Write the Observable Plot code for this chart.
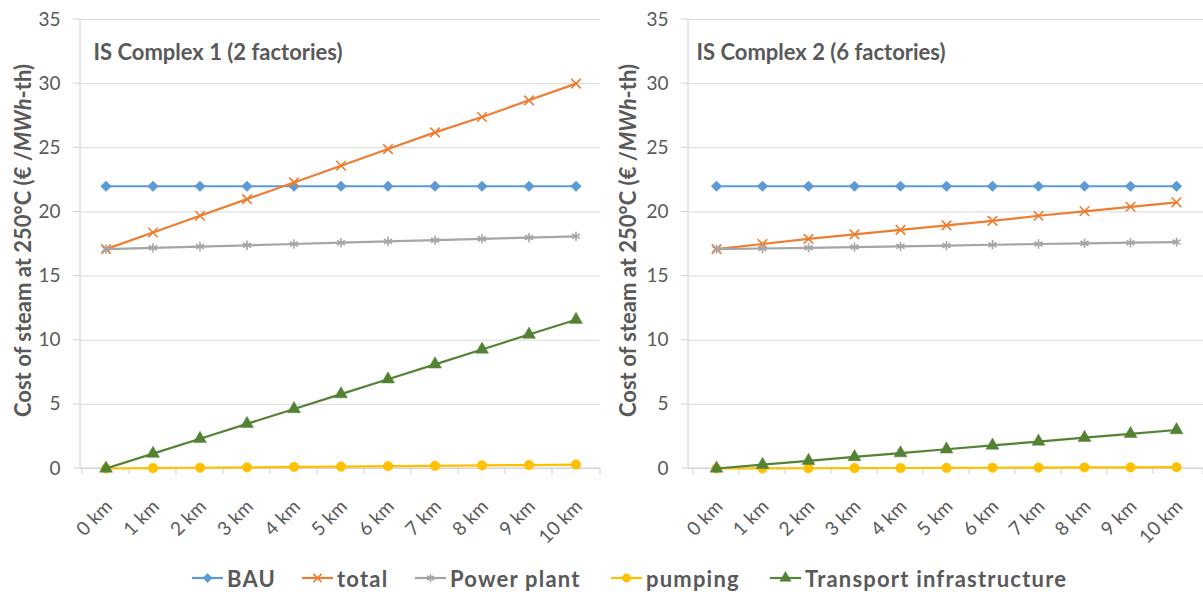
<!DOCTYPE html>
<html><head><meta charset="utf-8">
<script src="https://cdn.jsdelivr.net/npm/d3@7"></script>
<script src="https://cdn.jsdelivr.net/npm/@observablehq/plot@0.6"></script>
<style>
html,body{margin:0;padding:0;background:#fff;}
body{width:1203px;height:592px;position:relative;overflow:hidden;font-family:Lato,"Open Sans",sans-serif;}
#charts{position:absolute;left:0;top:0;display:flex;}
#legend{position:absolute;left:0;top:562px;width:1203px;height:32px;}
.item{position:absolute;top:0;display:flex;align-items:center;height:32px;color:#595959;font-size:22px;font-weight:bold;letter-spacing:1.2px;white-space:nowrap;}
.item svg{margin-right:3px;}
</style></head><body>
<div id="charts"></div>
<div id="legend"></div>
<script>
const categories = ["0 km","1 km","2 km","3 km","4 km","5 km","6 km","7 km","8 km","9 km","10 km"];
const yTicks = [0,5,10,15,20,25,30,35];
const seriesNames = ["BAU","total","Power plant","pumping","Transport infrastructure"];
const seriesColors = ["#5B9BD5","#ED7D31","#A5A5A5","#FFC000","#548235"];
const seriesSymbols = ["diamond2","times","asterisk","circle","triangle"];
const panelTitles = ["IS Complex 1 (2 factories)","IS Complex 2 (6 factories)"];

// IS Complex 1
const c1BAU       = [22,22,22,22,22,22,22,22,22,22,22];
const c1Total     = [17.1,18.4,19.7,21.0,22.3,23.6,24.9,26.2,27.4,28.7,30.0];
const c1Power     = [17.1,17.2,17.3,17.4,17.5,17.6,17.7,17.8,17.9,18.0,18.1];
const c1Pumping   = [0,0.03,0.06,0.09,0.12,0.15,0.18,0.21,0.24,0.27,0.3];
const c1Transport = [0,1.16,2.32,3.48,4.64,5.8,6.96,8.12,9.28,10.44,11.6];

// IS Complex 2
const c2BAU       = [22,22,22,22,22,22,22,22,22,22,22];
const c2Total     = [17.1,17.5,17.9,18.25,18.6,18.95,19.3,19.7,20.05,20.4,20.75];
const c2Power     = [17.1,17.15,17.2,17.26,17.32,17.38,17.44,17.5,17.55,17.6,17.65];
const c2Pumping   = [0,0.01,0.02,0.03,0.04,0.05,0.06,0.07,0.08,0.09,0.1];
const c2Transport = [0,0.3,0.6,0.9,1.2,1.5,1.8,2.1,2.4,2.7,3.0];

const panels = [
  {title: panelTitles[0], series: [c1BAU,c1Total,c1Power,c1Pumping,c1Transport], width: 601, ml: 80, mr: 1, titleDx: 13, labelX: 22},
  {title: panelTitles[1], series: [c2BAU,c2Total,c2Power,c2Pumping,c2Transport], width: 602, ml: 87, mr: 0, titleDx: 8, labelX: 26}
];

const H = 545, MT = 19, MB = 77;
const isFilled = s => s === "diamond2" || s === "circle" || s === "triangle";

function makePanel(p) {
  const rows = [];
  p.series.forEach((vals, i) => vals.forEach((v, j) => rows.push({series: seriesNames[i], cat: categories[j], value: v})));
  const marks = [
    Plot.gridY(yTicks, {stroke: "#d9d9d9", strokeOpacity: 1, strokeWidth: 1}),
    Plot.text(yTicks, {y: d => d, text: d => String(d), frameAnchor: "left", dx: -20, textAnchor: "end", fontSize: 19, fill: "#595959"}),
    Plot.axisX({tickSize: 0, tickRotate: -45, tickPadding: 19, dy: 16, dx: 3, label: null, fontSize: 19}),
    Plot.text([p.title], {frameAnchor: "top-left", dx: p.titleDx, dy: 25, fontWeight: "bold", fontSize: 22, fill: "#595959", textAnchor: "start", letterSpacing: 0.8})
  ];
  seriesNames.forEach((name, i) => {
    const d = rows.filter(r => r.series === name);
    marks.push(Plot.line(d, {x: "cat", y: "value", stroke: seriesColors[i], strokeWidth: 2.2}));
    const filled = isFilled(seriesSymbols[i]);
    marks.push(Plot.dot(d, {x: "cat", y: "value", symbol: seriesSymbols[i], r: filled ? 4.8 : 4.4,
      fill: filled ? seriesColors[i] : "none", stroke: seriesColors[i], strokeWidth: filled ? 0.5 : 1.6}));
  });
  const chart = Plot.plot({
    width: p.width, height: H,
    marginLeft: p.ml, marginRight: p.mr, marginTop: MT, marginBottom: MB,
    x: {type: "band", domain: categories, padding: 0},
    y: {domain: [0, 35], axis: null},
    style: {fontFamily: "Lato, 'Open Sans', sans-serif", color: "#595959", background: "white", overflow: "visible"},
    marks
  });
  const svg = d3.select(chart);
  const xs = chart.scale("x"), ys = chart.scale("y");
  const y0 = ys.apply(0), y35 = ys.apply(35);
  const left = xs.range[0], right = xs.range[1];
  const g = svg.append("g").attr("stroke", "#d0d0d0");
  g.append("line").attr("x1", left).attr("x2", left).attr("y1", y35).attr("y2", y0);
  g.append("line").attr("x1", left).attr("x2", right).attr("y1", y0).attr("y2", y0);
  yTicks.forEach(v => {
    const y = ys.apply(v);
    g.append("line").attr("x1", left - 7).attr("x2", left).attr("y1", y).attr("y2", y);
  });
  categories.forEach(c => {
    const x = xs.apply(c);
    g.append("line").attr("x1", x).attr("x2", x).attr("y1", y0).attr("y2", y0 + 6);
  });
  g.append("line").attr("x1", right).attr("x2", right).attr("y1", y0).attr("y2", y0 + 6);
  svg.selectAll("g[aria-label='line'], g[aria-label='dot']").raise();
  const t = svg.append("text")
    .attr("transform", `translate(${p.labelX},${(y0 + y35) / 2 - 3}) rotate(-90)`)
    .attr("text-anchor", "middle").attr("dominant-baseline", "central")
    .attr("fill", "#595959").attr("font-size", 22).attr("font-weight", "bold");
  t.append("tspan").text("Cost of steam at 250°C (€ /");
  t.append("tspan").attr("font-style", "italic").text("MWh");
  t.append("tspan").text("-th)");
  return chart;
}

const container = document.getElementById("charts");
panels.forEach(p => container.appendChild(makePanel(p)));

// Legend
const legendLefts = [191, 301, 414, 610, 769];
const symMap = {diamond2: d3.symbolDiamond2, times: d3.symbolTimes, asterisk: d3.symbolAsterisk, circle: d3.symbolCircle, triangle: d3.symbolTriangle};
const legend = document.getElementById("legend");
seriesNames.forEach((name, i) => {
  const div = document.createElement("div");
  div.className = "item";
  div.style.left = legendLefts[i] + "px";
  const s = d3.create("svg").attr("width", 33).attr("height", 20);
  s.append("line").attr("x1", 1).attr("x2", 32).attr("y1", 10).attr("y2", 10).attr("stroke", seriesColors[i]).attr("stroke-width", 2.2);
  const filled = isFilled(seriesSymbols[i]);
  s.append("path").attr("transform", "translate(16.5,10)")
    .attr("d", d3.symbol(symMap[seriesSymbols[i]], filled ? 55 : 45)())
    .attr("fill", filled ? seriesColors[i] : "none").attr("stroke", seriesColors[i]).attr("stroke-width", filled ? 0.5 : 1.6);
  div.appendChild(s.node());
  const span = document.createElement("span");
  span.textContent = name;
  div.appendChild(span);
  legend.appendChild(div);
});
</script>
</body></html>
